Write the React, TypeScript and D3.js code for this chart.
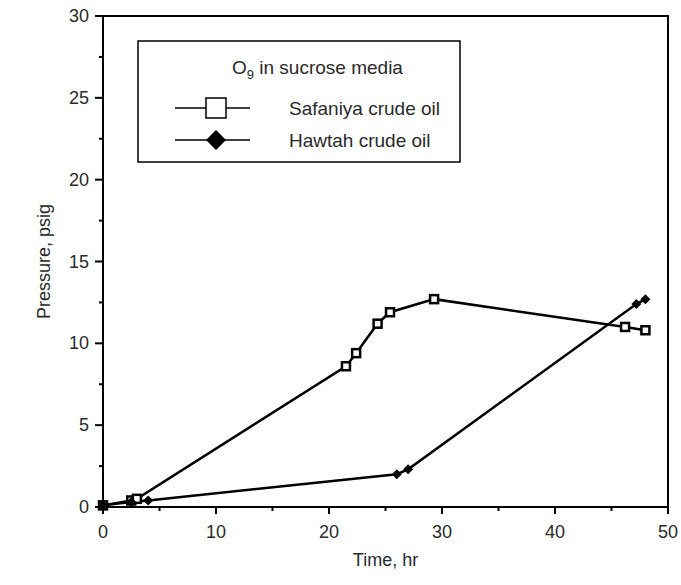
import * as d3 from "d3";

// values
const safaniyaTime = [0, 2.5, 3, 21.5, 22.4, 24.3, 25.4, 29.3, 46.2, 48];
const safaniyaPressure = [0.1, 0.4, 0.5, 8.6, 9.4, 11.2, 11.9, 12.7, 11.0, 10.8];
const hawtahTime = [0, 2.5, 4, 26, 27, 47.2, 48];
const hawtahPressure = [0.1, 0.3, 0.4, 2.0, 2.3, 12.4, 12.7];

const xTicks = [0, 10, 20, 30, 40, 50];
const xMinor = [5, 15, 25, 35, 45];
const yTicks = [0, 5, 10, 15, 20, 25, 30];
const yMinor = [2.5, 7.5, 12.5, 17.5, 22.5, 27.5];

const width = 681;
const height = 585;
const left = 103;
const right = 668;
const top = 16;
const bottom = 507;

const font = "'Liberation Sans', Arial, Helvetica, sans-serif";
const ink = "#2a2a2a";

export default function App() {
  const x = d3.scaleLinear().domain([0, 50]).range([left, right]);
  const y = d3.scaleLinear().domain([0, 30]).range([bottom, top]);

  const safaniya = safaniyaTime.map((t, i) => [t, safaniyaPressure[i]] as [number, number]);
  const hawtah = hawtahTime.map((t, i) => [t, hawtahPressure[i]] as [number, number]);

  const line = d3
    .line<[number, number]>()
    .x((d) => x(d[0]))
    .y((d) => y(d[1]));

  const diamond = (cx: number, cy: number, r: number) =>
    `M${cx},${cy - r}L${cx + r},${cy}L${cx},${cy + r}L${cx - r},${cy}Z`;

  // legend
  const lgX = 138;
  const lgY = 41;
  const lgW = 322;
  const lgH = 121;

  return (
    <svg
      width={width}
      height={height}
      style={{ position: "absolute", left: 0, top: 0, background: "#fff" }}
      fontFamily={font}
    >
      {/* frame */}
      <path
        d={`M${left},${bottom}V${top}H${right}V${bottom}Z`}
        fill="none"
        stroke="#000"
        strokeWidth={2}
      />

      {/* y axis ticks */}
      {yTicks.map((v) => (
        <g key={"y" + v}>
          <line x1={left - 8} x2={left} y1={y(v)} y2={y(v)} stroke="#000" strokeWidth={2} />
          <text x={left - 14} y={y(v) + 6} textAnchor="end" fontSize={18} fill={ink}>
            {v}
          </text>
        </g>
      ))}
      {yMinor.map((v) => (
        <line key={"ym" + v} x1={left - 4} x2={left} y1={y(v)} y2={y(v)} stroke="#000" strokeWidth={2} />
      ))}

      {/* x axis ticks */}
      {xTicks.map((v) => (
        <g key={"x" + v}>
          <line x1={x(v)} x2={x(v)} y1={bottom} y2={bottom + 7} stroke="#000" strokeWidth={2} />
          <text x={x(v)} y={bottom + 31} textAnchor="middle" fontSize={18} fill={ink}>
            {v}
          </text>
        </g>
      ))}
      {xMinor.map((v) => (
        <line key={"xm" + v} x1={x(v)} x2={x(v)} y1={bottom} y2={bottom + 4} stroke="#000" strokeWidth={2} />
      ))}

      {/* axis titles */}
      <text x={(left + right) / 2} y={566} textAnchor="middle" fontSize={18} fill={ink}>
        Time, hr
      </text>
      <text
        transform={`translate(50,${(top + bottom) / 2}) rotate(-90)`}
        textAnchor="middle"
        fontSize={18}
        fill={ink}
      >
        Pressure, psig
      </text>

      {/* series */}
      <path d={line(safaniya) || ""} fill="none" stroke="#000" strokeWidth={2.5} />
      <path d={line(hawtah) || ""} fill="none" stroke="#000" strokeWidth={2.5} />
      {safaniya.map((d, i) => (
        <rect
          key={"s" + i}
          x={x(d[0]) - 4}
          y={y(d[1]) - 4}
          width={8}
          height={8}
          fill="#fff"
          stroke="#000"
          strokeWidth={2.5}
        />
      ))}
      {hawtah.map((d, i) => (
        <path key={"h" + i} d={diamond(x(d[0]), y(d[1]), 5)} fill="#000" />
      ))}

      {/* legend */}
      <rect x={lgX} y={lgY} width={lgW} height={lgH} fill="#fff" stroke="#000" strokeWidth={1.5} />
      <text x={232} y={74} fontSize={19} fill={ink}>
        O<tspan fontSize={13} dy={5}>9</tspan>
        <tspan dy={-5}> in sucrose media</tspan>
      </text>
      <line x1={175} x2={250} y1={108} y2={108} stroke="#000" strokeWidth={1.5} />
      <rect x={206} y={98} width={20} height={20} fill="#fff" stroke="#000" strokeWidth={1.5} />
      <text x={289} y={115} fontSize={19} fill={ink}>
        Safaniya crude oil
      </text>
      <line x1={175} x2={250} y1={140} y2={140} stroke="#000" strokeWidth={1.5} />
      <path d={diamond(216, 140, 10)} fill="#000" />
      <text x={289} y={147} fontSize={19} fill={ink}>
        Hawtah crude oil
      </text>
    </svg>
  );
}
